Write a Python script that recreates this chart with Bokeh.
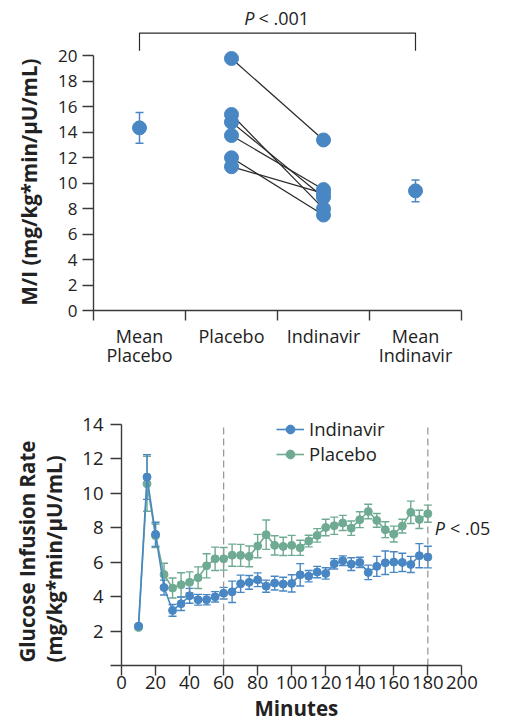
from bokeh.plotting import figure
from bokeh.models import (ColumnDataSource, FixedTicker, Whisker, TeeHead,
                          Label, Legend, LegendItem, Title)
from bokeh.layouts import column
from bokeh.embed import file_html
from bokeh.resources import INLINE

# top panel: M/I per subject
categories = ["Mean\nPlacebo", "Placebo", "Indinavir", "Mean\nIndinavir"]
placebo_mi = [19.8, 15.4, 14.8, 13.75, 12.0, 11.3]
indinavir_mi = [13.4, 8.0, 8.9, 9.5, 7.5, 9.2]
mean_mi = [14.35, 9.4]
mean_mi_err = [1.2, 0.86]
mi_ticks = [0, 2, 4, 6, 8, 10, 12, 14, 16, 18, 20]

# bottom panel: glucose infusion rate over time
minutes = [10, 15, 20, 25, 30, 35, 40, 45, 50, 55, 60, 65, 70, 75, 80, 85, 90,
           95, 100, 105, 110, 115, 120, 125, 130, 135, 140, 145, 150, 155, 160,
           165, 170, 175, 180]
indinavir_gir = [2.29, 10.95, 7.62, 4.53, 3.2, 3.59, 4.05, 3.82, 3.82, 3.99, 4.2,
                 4.28, 4.75, 4.83, 4.98, 4.61, 4.79, 4.73, 4.77, 5.27, 5.19, 5.43,
                 5.35, 5.91, 6.09, 5.89, 5.99, 5.41, 5.76, 5.97, 6.01, 5.99, 5.87,
                 6.38, 6.3]
indinavir_err = [0.1, 1.3, 0.7, 0.43, 0.34, 0.39, 0.43, 0.31, 0.3, 0.3, 0.34,
                 0.62, 0.5, 0.4, 0.4, 0.35, 0.4, 0.4, 0.5, 0.65, 0.33, 0.33, 0.33,
                 0.3, 0.28, 0.37, 0.3, 0.42, 0.58, 0.68, 0.6, 0.53, 0.47, 0.7, 0.63]
placebo_gir = [2.21, 10.56, 7.54, 5.29, 4.5, 4.69, 4.83, 5.1, 5.79, 6.2, 6.2,
               6.41, 6.4, 6.34, 6.94, 7.6, 6.98, 6.92, 6.98, 6.84, 7.23, 7.56,
               8.02, 8.12, 8.28, 7.98, 8.47, 8.95, 8.43, 7.89, 7.64, 8.1, 8.9,
               8.49, 8.82]
placebo_err = [0.05, 1.6, 0.68, 0.65, 0.58, 0.7, 0.61, 0.63, 0.7, 0.68, 0.66,
               0.64, 0.64, 0.6, 0.68, 0.85, 0.56, 0.53, 0.58, 0.44, 0.34, 0.39,
               0.48, 0.5, 0.44, 0.42, 0.46, 0.42, 0.4, 0.46, 0.46, 0.4, 0.65,
               0.53, 0.5]
dashed_minutes = [60, 180]
gir_yticks = [0, 2, 4, 6, 8, 10, 12, 14]
gir_xticks = [0, 20, 40, 60, 80, 100, 120, 140, 160, 180, 200]

BLUE = "#4887c3"
GREEN = "#6fab92"
AXIS = "#3a3a3a"
TXT = "#222222"
FONT = "Open Sans"


def style_axes(p, tick_size):
    p.xgrid.visible = False
    p.ygrid.visible = False
    p.outline_line_color = None
    p.frame_align = False
    for ax in p.xaxis + p.yaxis:
        ax.axis_line_color = AXIS
        ax.axis_line_width = 1.4
        ax.major_tick_line_color = AXIS
        ax.major_tick_line_width = 1.4
        ax.major_tick_in = 0
        ax.minor_tick_line_color = None
        ax.major_label_text_font = FONT
        ax.major_label_text_font_size = tick_size
        ax.major_label_text_color = TXT


def axis_title(text, size, offset, standoff, line_height=1.0):
    # axis titles start at the axis origin instead of the frame centre
    return Title(text=text, align="left", offset=offset, standoff=standoff,
                 text_font=FONT, text_font_size=size, text_font_style="bold",
                 text_color=TXT, text_line_height=line_height)


# ---------- top ----------
p1 = figure(width=508, height=410, x_range=(0, 4), y_range=(0, 24.2),
            output_backend="svg", toolbar_location=None,
            min_border_left=90, min_border_right=47, min_border_top=2,
            min_border_bottom=100)
style_axes(p1, "17px")

cat_pos = [i + 0.5 for i in range(len(categories))]
n = len(placebo_mi)
p1.segment(x0=[cat_pos[1]] * n, y0=placebo_mi, x1=[cat_pos[2]] * n,
           y1=indinavir_mi, line_color="#2a2a2a", line_width=1.2)
p1.scatter([cat_pos[1]] * n, placebo_mi, size=14, color=BLUE)
p1.scatter([cat_pos[2]] * n, indinavir_mi, size=14, color=BLUE)

mean_src = ColumnDataSource(dict(
    x=[cat_pos[0], cat_pos[3]], y=mean_mi,
    upper=[m + e for m, e in zip(mean_mi, mean_mi_err)],
    lower=[m - e for m, e in zip(mean_mi, mean_mi_err)]))
p1.add_layout(Whisker(source=mean_src, base="x", upper="upper", lower="lower",
                      line_color=BLUE, line_width=1.5,
                      upper_head=TeeHead(size=8, line_color=BLUE, line_width=1.5),
                      lower_head=TeeHead(size=8, line_color=BLUE, line_width=1.5)))
p1.scatter("x", "y", source=mean_src, size=14, color=BLUE)

# significance bracket between the two means
bx = [cat_pos[0], cat_pos[0], cat_pos[3], cat_pos[3]]
by = [20.4, 21.8, 21.8, 20.4]
p1.line(bx, by, line_color="#2a2a2a", line_width=1.2)
mid = (cat_pos[0] + cat_pos[3]) / 2
p1.add_layout(Label(x=mid, y=23.0, x_offset=-23, text="P", text_align="right",
                    text_baseline="middle", text_font=FONT, text_font_size="18px",
                    text_font_style="italic", text_color=TXT))
p1.add_layout(Label(x=mid, y=23.0, x_offset=-19, text="< .001", text_align="left",
                    text_baseline="middle", text_font=FONT, text_font_size="18px",
                    text_color=TXT))

p1.xaxis.ticker = FixedTicker(ticks=cat_pos, minor_ticks=[0, 1, 2, 3, 4])
p1.xaxis.major_label_overrides = {pos: lab for pos, lab in zip(cat_pos, categories)}
p1.xaxis.major_label_text_font_size = "18px"
p1.xaxis.major_label_text_line_height = 0.82
p1.xaxis.major_tick_out = 0
p1.xaxis.major_label_standoff = 3
p1.xaxis.minor_tick_line_color = AXIS
p1.xaxis.minor_tick_line_width = 1.4
p1.xaxis.minor_tick_in = 0
p1.xaxis.minor_tick_out = 10

p1.yaxis.bounds = (0, 20)
p1.yaxis.ticker = FixedTicker(ticks=mi_ticks)
p1.yaxis.major_tick_out = 11
p1.yaxis.major_label_standoff = 5
p1.add_layout(axis_title("M/I (mg/kg*min/µU/mL)", "20.5px", 5, 25), "left")

# ---------- bottom ----------
p2 = figure(width=508, height=317, x_range=(0, 218), y_range=(0, 14.7),
            output_backend="svg", toolbar_location=None,
            min_border_left=117, min_border_right=16, min_border_top=2,
            min_border_bottom=62)
style_axes(p2, "18.5px")

top = gir_yticks[-1]
p2.segment(x0=dashed_minutes, y0=[0] * len(dashed_minutes), x1=dashed_minutes,
           y1=[top] * len(dashed_minutes), line_color="#9a9a9a",
           line_width=1.3, line_dash="7 4")

items = []
for name, vals, errs, col in [("Placebo", placebo_gir, placebo_err, GREEN),
                              ("Indinavir", indinavir_gir, indinavir_err, BLUE)]:
    src = ColumnDataSource(dict(
        t=minutes, v=vals,
        upper=[v + e for v, e in zip(vals, errs)],
        lower=[v - e for v, e in zip(vals, errs)]))
    p2.add_layout(Whisker(source=src, base="t", upper="upper", lower="lower",
                          line_color=col, line_width=1.4,
                          upper_head=TeeHead(size=8, line_color=col, line_width=1.4),
                          lower_head=TeeHead(size=8, line_color=col, line_width=1.4)))
    ln = p2.line("t", "v", source=src, line_color=col, line_width=1.6)
    pts = p2.scatter("t", "v", source=src, size=8, color=col)
    items.append(LegendItem(label=name, renderers=[ln, pts]))

legend = Legend(items=items[::-1], location=(155, 199), border_line_color=None,
                background_fill_alpha=0, padding=0, margin=0, spacing=0,
                glyph_width=28, glyph_height=22, label_height=22,
                label_standoff=5, label_text_font=FONT,
                label_text_font_size="18.5px", label_text_color=TXT)
p2.add_layout(legend)

p2.add_layout(Label(x=184, y=8.0, text="P", text_align="left",
                    text_baseline="middle", text_font=FONT, text_font_size="18px",
                    text_font_style="italic", text_color=TXT))
p2.add_layout(Label(x=193, y=8.0, text="< .05", text_align="left",
                    text_baseline="middle", text_font=FONT, text_font_size="18px",
                    text_color=TXT))

p2.xaxis.ticker = FixedTicker(ticks=gir_xticks)
p2.xaxis.bounds = (0, 200)
p2.xaxis.major_tick_out = 10
p2.xaxis.major_label_standoff = 0
p2.add_layout(axis_title("Minutes", "20.5px", 133, 0), "below")

# the 0 tick of the y axis doubles as the short stub of the x axis
p2.yaxis.ticker = FixedTicker(ticks=gir_yticks)
p2.yaxis.major_label_overrides = {0: ""}
p2.yaxis.bounds = (0, top)
p2.yaxis.major_tick_out = 11
p2.yaxis.major_label_standoff = 7
p2.add_layout(axis_title("Glucose Infusion Rate\n(mg/kg*min/µU/mL)", "20.5px",
                         3, 22, line_height=0.97), "left")

layout = column(p1, p2, spacing=0)
open("out.html", "w").write(file_html(layout, INLINE))
